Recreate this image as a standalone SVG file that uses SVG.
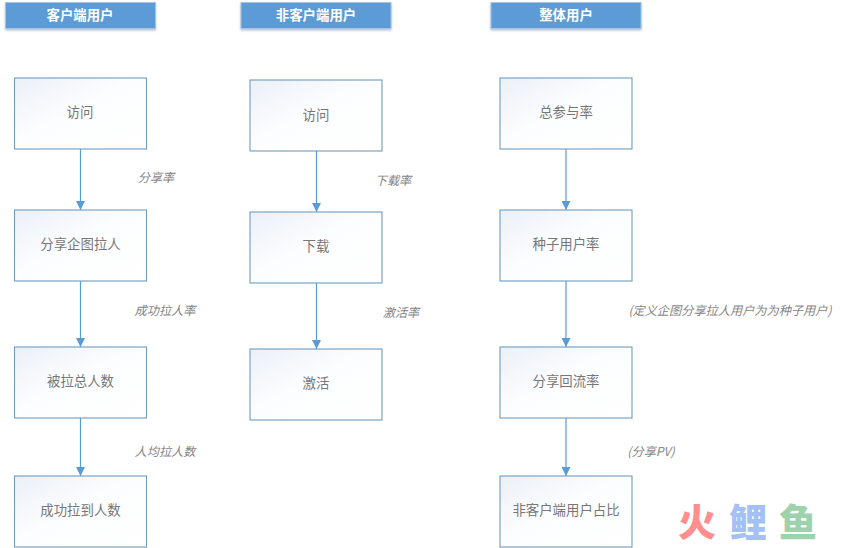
<svg xmlns="http://www.w3.org/2000/svg" width="844" height="548" viewBox="0 0 844 548">
<style>
text{font-family:"Noto Sans CJK SC","Noto Sans CJK JP",sans-serif;text-anchor:middle}
.h rect{fill:#5b9bd5;stroke:#a9c4e0;stroke-width:1;filter:url(#sh)}
.h text{fill:#fff;font-size:13.4px;font-weight:700}
.n rect{fill:url(#g);stroke:#6f9cc0;stroke-width:1.1}
.n text{fill:#777;font-size:13.4px}
.l{fill:#858585;font-size:12.2px;font-style:italic}
.c line{stroke:#5b9bd5;stroke-width:1.2;marker-end:url(#a)}
.w text{font-size:38px;font-weight:900}
</style>
<defs>
<linearGradient id="g" x1="0" y1="0" x2="1" y2="1"><stop offset="0" stop-color="#ebf0f8"/><stop offset=".45" stop-color="#fcfdfe"/><stop offset="1" stop-color="#fff"/></linearGradient>
<filter id="sh" x="-5%" y="-20%" width="110%" height="150%"><feDropShadow dx="0" dy="1.5" stdDeviation="1.2" flood-color="#8fa9c4" flood-opacity=".7"/></filter>
<marker id="a" markerUnits="userSpaceOnUse" markerWidth="10" markerHeight="9" refX="9" refY="4.5" orient="auto"><path d="M0 0L9 4.5L0 9z" fill="#5b9bd5"/></marker>
</defs>
<rect width="844" height="548" fill="#fff"/>
<g class="c" id="connectors">
<line x1="80.500" y1="149" x2="80.500" y2="210"/>
<line x1="80.500" y1="281" x2="80.500" y2="347"/>
<line x1="80.500" y1="418" x2="80.500" y2="476"/>
<line x1="316.500" y1="151" x2="316.500" y2="212"/>
<line x1="316.500" y1="283" x2="316.500" y2="349"/>
<line x1="566" y1="149" x2="566" y2="210"/>
<line x1="566" y1="281" x2="566" y2="347"/>
<line x1="566" y1="418" x2="566" y2="476"/>
</g>
<g class="h" id="h1"><rect x="5.500" y="2.500" width="150" height="26"/><text x="80" y="20">客户端用户</text></g>
<g class="h" id="h2"><rect x="241" y="2.500" width="150" height="26"/><text x="316" y="20">非客户端用户</text></g>
<g class="h" id="h3"><rect x="491" y="2.500" width="150" height="26"/><text x="566" y="20">整体用户</text></g>
<g class="n" id="a1"><rect x="14.500" y="78" width="132" height="71"/><text x="80" y="116.500">访问</text></g>
<g class="n" id="a2"><rect x="14.500" y="210" width="132" height="71"/><text x="80.500" y="248.500">分享企图拉人</text></g>
<g class="n" id="a3"><rect x="14.500" y="347" width="132" height="71"/><text x="80.500" y="385.500">被拉总人数</text></g>
<g class="n" id="a4"><rect x="14.500" y="476" width="132" height="71"/><text x="80.500" y="514.500">成功拉到人数</text></g>
<g class="n" id="b1"><rect x="250" y="80" width="132" height="71"/><text x="316" y="119.500">访问</text></g>
<g class="n" id="b2"><rect x="250" y="212" width="132" height="71"/><text x="316" y="250.500">下载</text></g>
<g class="n" id="b3"><rect x="250" y="349" width="132" height="71"/><text x="316" y="387.500">激活</text></g>
<g class="n" id="c1"><rect x="500" y="78" width="132" height="71"/><text x="566" y="116.500">总参与率</text></g>
<g class="n" id="c2"><rect x="500" y="210" width="132" height="71"/><text x="566" y="248.500">种子用户率</text></g>
<g class="n" id="c3"><rect x="500" y="347" width="132" height="71"/><text x="566" y="385.500">分享回流率</text></g>
<g class="n" id="c4"><rect x="500" y="476" width="132" height="71"/><text x="566" y="514.500">非客户端用户占比</text></g>
<text class="l" x="156" y="182">分享率</text>
<text class="l" x="165" y="315">成功拉人率</text>
<text class="l" x="165" y="456">人均拉人数</text>
<text class="l" x="393" y="185">下载率</text>
<text class="l" x="401" y="317">激活率</text>
<text class="l" x="730" y="315">(定义企图分享拉人用户为为种子用户)</text>
<text class="l" x="651" y="456">(分享PV)</text>
<g class="w" id="watermark"><text x="697" y="536" fill="#ff8f8f">火</text><text x="748" y="536" fill="#a4c0f4">鲤</text><text x="798" y="536" fill="#9ed2ad">鱼</text></g>
</svg>
